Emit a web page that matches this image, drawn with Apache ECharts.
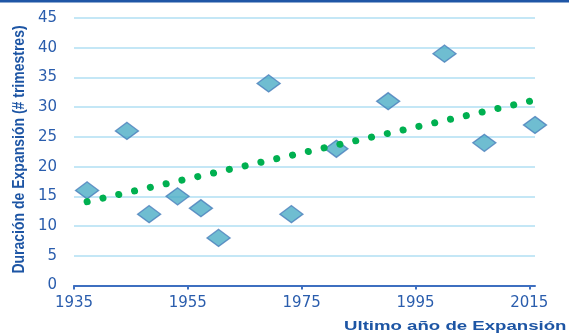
<!DOCTYPE html>
<html>
<head>
<meta charset="utf-8">
<script src="https://cdn.jsdelivr.net/npm/echarts@6/dist/echarts.min.js"></script>
<style>
  html, body { margin: 0; padding: 0; background: #ffffff; }
  #chart { width: 569px; height: 335px; }
</style>
</head>
<body>
<div id="chart"></div>
<script>
// Último año de cada expansión y su duración en trimestres
const years = [1937.3, 1944.3, 1948.2, 1953.2, 1957.3, 1960.4, 1969.2, 1973.2, 1981.1, 1990.2, 2000.1, 2007.1, 2016.0];
const durations = [16, 26, 12, 15, 13, 8, 34, 12, 23, 31, 39, 24, 27];

// Extremos de la línea de tendencia lineal
const trendYears = [1937.3, 2016.0];
const trendValues = [14.1, 31.2];

// Marcas de los ejes
const xTicks = [1935, 1955, 1975, 1995, 2015];
const yTicks = [0, 5, 10, 15, 20, 25, 30, 35, 40, 45];

const xTitle = 'Ultimo año de Expansión';
const yTitle = 'Duración de Expansión (# trimestres)';

const labelColor = '#2a5dad';
const titleColor = '#1d55a4';

const chart = echarts.init(document.getElementById('chart'), null, { renderer: 'canvas' });

chart.setOption({
  animation: false,
  backgroundColor: '#ffffff',
  grid: { left: 74, right: 34, top: 18, bottom: 49.5 },
  xAxis: {
    type: 'value',
    min: xTicks[0],
    max: years[years.length - 1],
    axisLine: { show: true, lineStyle: { color: '#3e6fc0', width: 2 } },
    axisTick: { show: true, length: 4, customValues: xTicks, lineStyle: { color: '#3e6fc0', width: 2 } },
    axisLabel: {
      customValues: xTicks,
      formatter: (v) => String(v),
      margin: 10,
      color: labelColor,
      fontFamily: 'DejaVu Sans',
      fontSize: 15
    },
    splitLine: { show: false }
  },
  yAxis: {
    type: 'value',
    min: yTicks[0],
    max: yTicks[yTicks.length - 1],
    interval: yTicks[1] - yTicks[0],
    axisLine: { show: false },
    axisTick: { show: false },
    axisLabel: {
      margin: 17,
      color: labelColor,
      fontFamily: 'DejaVu Sans',
      fontSize: 15
    },
    splitLine: { show: true, lineStyle: { color: '#c4e7f6', width: 2 } }
  },
  graphic: [
    {
      type: 'rect',
      shape: { x: 0, y: 0, width: 569, height: 2.5 },
      style: { fill: '#1f56a6' },
      silent: true
    },
    {
      type: 'text',
      x: 566.5,
      y: 327,
      scaleX: 1.49,
      style: {
        text: xTitle,
        fill: titleColor,
        font: 'bold 12.5px "Liberation Sans", Arial, sans-serif',
        align: 'right',
        verticalAlign: 'middle'
      },
      silent: true
    },
    {
      type: 'text',
      x: 19,
      y: 149.5,
      rotation: Math.PI / 2,
      scaleY: 1.17,
      style: {
        text: yTitle,
        fill: titleColor,
        font: 'bold 14px "Liberation Sans", Arial, sans-serif',
        align: 'center',
        verticalAlign: 'middle'
      },
      silent: true
    }
  ],
  series: [
    {
      type: 'scatter',
      clip: false,
      symbol: 'diamond',
      symbolSize: [23, 17],
      itemStyle: { color: '#4bacc6', borderColor: '#4a7ebb', borderWidth: 1.4 },
      data: years.map((yr, i) => [yr, durations[i]]),
      z: 2
    },
    {
      type: 'line',
      symbol: 'none',
      silent: true,
      lineStyle: { color: '#00b050', width: 7, type: [0.1, 16.1], cap: 'round' },
      data: trendYears.map((yr, i) => [yr, trendValues[i]]),
      z: 3
    }
  ]
});
</script>
</body>
</html>
